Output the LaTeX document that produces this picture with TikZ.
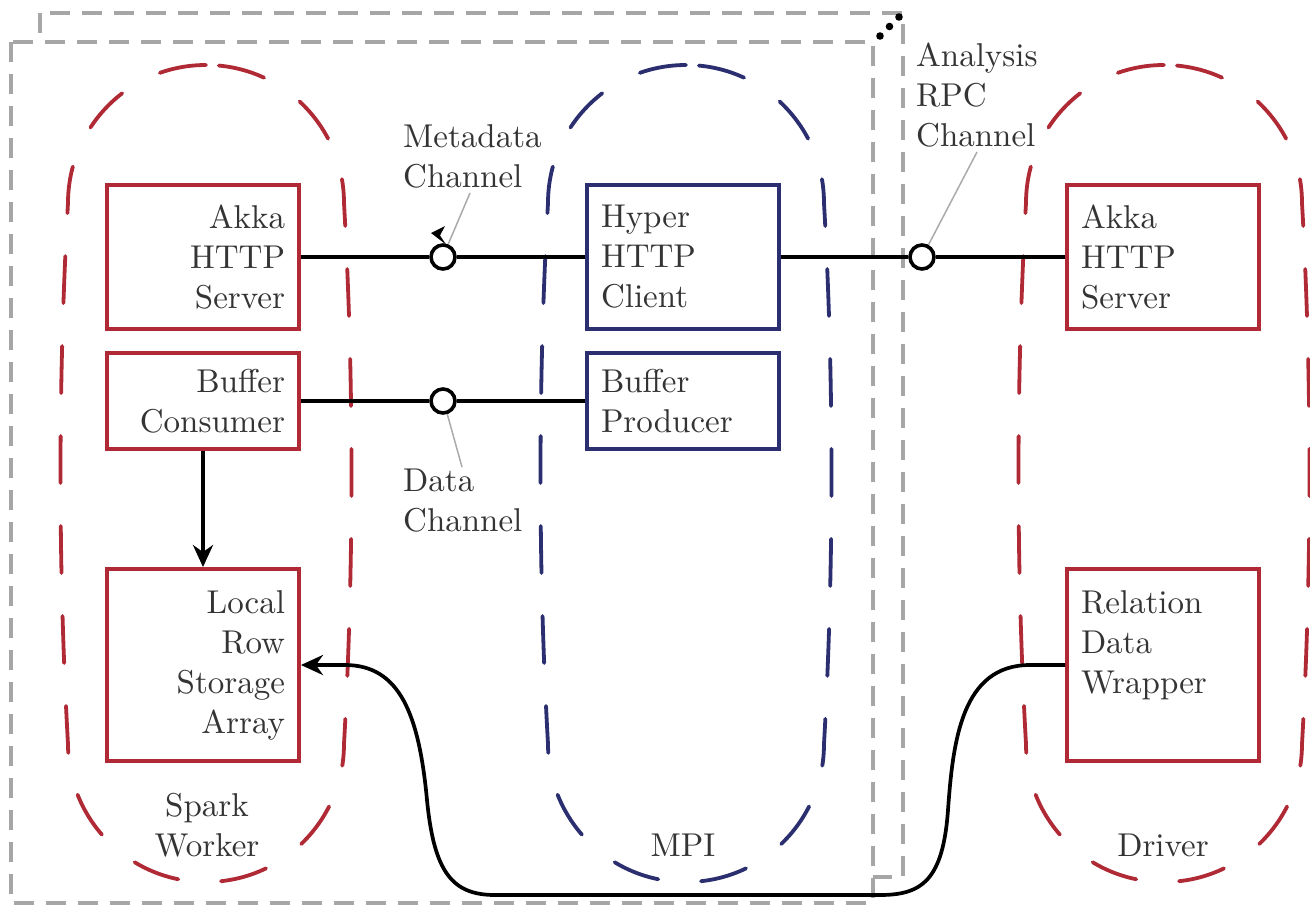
\documentclass[tikz,border=0pt]{standalone}
\usepackage{fontspec}
\setmainfont{lmroman10-regular.otf}
\usetikzlibrary{arrows.meta}
\definecolor{cred}{RGB}{176,42,54}
\definecolor{cblue}{RGB}{43,47,112}
\definecolor{cgray}{RGB}{166,166,166}
\definecolor{cpin}{RGB}{170,170,170}
\definecolor{ctext}{RGB}{52,52,52}
\newcommand\myblob[2]{%
  \draw[blob, draw=#2] (#1,65)
    .. controls ({#1-77.3},65) and ({#1-138},127.7) .. ({#1-138},203)
    .. controls ({#1-148},380) and ({#1-148},567) .. ({#1-138},744)
    .. controls ({#1-138},819.3) and ({#1-77.3},882) .. (#1,882)
    .. controls ({#1+77.3},882) and ({#1+138},819.3) .. ({#1+138},744)
    .. controls ({#1+148},567) and ({#1+148},380) .. ({#1+138},203)
    .. controls ({#1+138},127.7) and ({#1+77.3},65) .. (#1,65);}
\begin{document}
\begin{tikzpicture}[x=1pt,y=-1pt,
  every node/.style={text=ctext, font=\fontsize{33}{40}\selectfont},
  blob/.style={line width=3.8pt, dash pattern=on 47pt off 43pt, line cap=round},
  grayd/.style={draw=cgray, line width=4pt, dash pattern=on 20pt off 12pt},
  box/.style={draw, line width=3.9pt, minimum width=192pt, text width=164pt, inner xsep=14pt, inner ysep=4pt},
  rbox/.style={box, draw=cred, align=right},
  bbox/.style={box, draw=cblue, align=left},
  rlbox/.style={box, draw=cred, align=left},
  port/.style={circle, draw=black, fill=white, line width=3.6pt, minimum size=24pt, inner sep=0pt},
  conn/.style={draw=black, line width=3.7pt},
  pinline/.style={draw=cpin, line width=1.5pt},
  lbl/.style={align=left, inner sep=0pt},
  tip/.style={-{Stealth[length=22pt,width=20pt,inset=7pt]}}]
\useasboundingbox (0,0) rectangle (1310,905);
% stacked gray frames
\draw[grayd] (40,13) rectangle (903,877);
\draw[grayd, fill=white] (11,42) rectangle (873,903);
\fill (880,36) circle[radius=3.8];
\fill (889.5,26.5) circle[radius=3.8];
\fill (899,17) circle[radius=3.8];
% groups
\myblob{206}{cred}
\myblob{686}{cblue}
\myblob{1164}{cred}
% boxes
\node[rbox, minimum height=144pt] (akkaL) at (203,257) {Akka\\HTTP\\Server};
\node[rbox, minimum height=96pt] (bufC) at (203,401) {Buffer\\Consumer};
\node[rbox, minimum height=192pt] (lrs) at (203,665) {Local\\Row\\Storage\\Array};
\node[bbox, minimum height=144pt] (hyper) at (683,257) {Hyper\\HTTP\\Client};
\node[bbox, minimum height=96pt] (bufP) at (683,401) {Buffer\\Producer};
\node[rlbox, minimum height=144pt] (akkaR) at (1163,257) {Akka\\HTTP\\Server};
\node[rlbox, minimum height=192pt] (rdw) at (1163,665) {Relation\\Data\\Wrapper\\\vphantom{Array}};
% ports
\node[port] (p1) at (443,257) {};
\node[port] (p2) at (443,401) {};
\node[port] (p3) at (922,257) {};
% connectors
\draw[conn] (akkaL.east) -- (p1.west);
\draw[conn] (p1.east) -- (hyper.west);
\draw[conn] (hyper.east) -- (p3.west);
\draw[conn] (p3.east) -- (akkaR.west);
\draw[conn] (bufC.east) -- (p2.west);
\draw[conn] (p2.east) -- (bufP.west);
\draw[conn, tip] (bufC.south) -- (lrs.north);
\draw[conn, tip] (rdw.west) -- (1030,665)
  .. controls (962,665) and (953,740) .. (948,810)
  .. controls (943,880) and (922,895) .. (880,895)
  -- (495,895)
  .. controls (452,895) and (434,872) .. (427,800)
  .. controls (419,715) and (400,665) .. (345,665)
  -- (lrs.east);
% channel labels
\node[lbl, anchor=west] (mdl) at (403,156) {Metadata\\Channel};
\node[lbl, anchor=west] (dcl) at (403,501) {Data\\Channel};
\node[lbl, anchor=west] (arl) at (916,95) {Analysis\\RPC\\Channel};
\coordinate (mdpin) at (470,193);
\coordinate (dcpin) at (462,467);
\coordinate (arpin) at (977,152);
\draw[pinline] (p1.68) -- (mdpin);
\draw[pinline] (p2.-72) -- (dcpin);
\draw[pinline] (p3.62) -- (arpin);
\fill (431,233) -- (445,226) -- (440,235.5) -- (446,244.5) -- cycle;
% group labels
\node[align=center] (sw) at (207,825) {Spark\\Worker};
\node (mpi) at (683,845) {MPI};
\node (drv) at (1163,845) {Driver};
\end{tikzpicture}
\end{document}
